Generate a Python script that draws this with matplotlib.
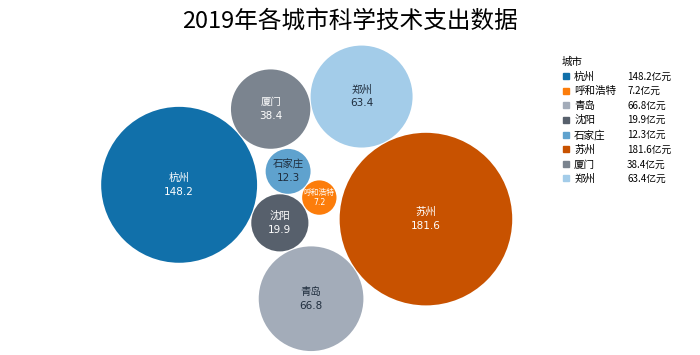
import numpy as np
import matplotlib
matplotlib.use("Agg")
import matplotlib.pyplot as plt

plt.rcParams['font.family'] = ['Noto Sans CJK SC', 'DejaVu Sans']

cities = ['杭州', '呼和浩特', '青岛', '沈阳', '石家庄', '苏州', '厦门', '郑州']
values = [148.2, 7.2, 66.8, 19.9, 12.3, 181.6, 38.4, 63.4]
colors = ['#1170aa', '#fc7d0b', '#a3acb9', '#57606c', '#5fa2ce', '#c85200', '#7b848f', '#a3cce9']
text_colors = ['white', 'white', '#1f2d3d', 'white', '#1f2d3d', 'white', 'white', '#1f2d3d']
label_sizes = [7.5, 5.6, 7.5, 7.5, 7.5, 7.5, 7.5, 7.5]
title = '2019年各城市科学技术支出数据'
legend_title = '城市'
unit = '亿元'

W, H = 700, 355          # figure size in pixels
SCALE = 11.35            # pixels per data unit
COM_PX = (315, 196)      # where the centre of mass of the bubbles sits (pixels from top-left)


class BubbleChart:
    def __init__(self, area, bubble_spacing=0.0):
        area = np.asarray(area, dtype=float)
        r = np.sqrt(area / np.pi)
        self.bubble_spacing = bubble_spacing
        self.bubbles = np.ones((len(area), 4))
        self.bubbles[:, 2] = r
        self.bubbles[:, 3] = area
        self.maxstep = 2 * self.bubbles[:, 2].max() + self.bubble_spacing
        self.step_dist = self.maxstep / 2
        length = np.ceil(np.sqrt(len(self.bubbles)))
        grid = np.arange(length) * self.maxstep
        gx, gy = np.meshgrid(grid, grid)
        self.bubbles[:, 0] = gx.flatten()[:len(self.bubbles)]
        self.bubbles[:, 1] = gy.flatten()[:len(self.bubbles)]
        self.com = self.center_of_mass()

    def center_of_mass(self):
        return np.average(self.bubbles[:, :2], axis=0, weights=self.bubbles[:, 3])

    def center_distance(self, bubble, bubbles):
        return np.hypot(bubble[0] - bubbles[:, 0], bubble[1] - bubbles[:, 1])

    def outline_distance(self, bubble, bubbles):
        d = self.center_distance(bubble, bubbles)
        return d - bubble[2] - bubbles[:, 2] - self.bubble_spacing

    def check_collisions(self, bubble, bubbles):
        distance = self.outline_distance(bubble, bubbles)
        return len(distance[distance < 0])

    def collides_with(self, bubble, bubbles):
        distance = self.outline_distance(bubble, bubbles)
        return np.argmin(distance, keepdims=True)

    def collapse(self, n_iterations=50):
        for _ in range(n_iterations):
            moves = 0
            for i in range(len(self.bubbles)):
                rest_bub = np.delete(self.bubbles, i, 0)
                dir_vec = self.com - self.bubbles[i, :2]
                dir_vec = dir_vec / np.sqrt(dir_vec.dot(dir_vec))
                new_point = self.bubbles[i, :2] + dir_vec * self.step_dist
                new_bubble = np.append(new_point, self.bubbles[i, 2:4])
                if not self.check_collisions(new_bubble, rest_bub):
                    self.bubbles[i, :] = new_bubble
                    self.com = self.center_of_mass()
                    moves += 1
                else:
                    for colliding in self.collides_with(new_bubble, rest_bub):
                        dir_vec = rest_bub[colliding, :2] - self.bubbles[i, :2]
                        dir_vec = dir_vec / np.sqrt(dir_vec.dot(dir_vec))
                        orth = np.array([dir_vec[1], -dir_vec[0]])
                        p1 = self.bubbles[i, :2] + orth * self.step_dist
                        p2 = self.bubbles[i, :2] - orth * self.step_dist
                        d1 = self.center_distance(self.com, np.array([p1]))
                        d2 = self.center_distance(self.com, np.array([p2]))
                        new_point = p1 if d1 < d2 else p2
                        new_bubble = np.append(new_point, self.bubbles[i, 2:4])
                        if not self.check_collisions(new_bubble, rest_bub):
                            self.bubbles[i, :] = new_bubble
                            self.com = self.center_of_mass()
            if moves / len(self.bubbles) < 0.1:
                self.step_dist = self.step_dist / 2


bc = BubbleChart(values, bubble_spacing=0.1)
bc.collapse()
b = bc.bubbles
com = bc.center_of_mass()

fig = plt.figure(figsize=(W / 100, H / 100), dpi=100)
ax = fig.add_axes([0, 0, 1, 1])
ax.axis('off')
handles = []
for i in range(len(b)):
    ax.add_patch(plt.Circle(b[i, :2], b[i, 2], color=colors[i], linewidth=0))
    off = 0.6 * label_sizes[i] / 7.5
    ax.text(b[i, 0], b[i, 1] + off, cities[i], ha='center', va='center',
            fontsize=label_sizes[i], color=text_colors[i])
    ax.text(b[i, 0], b[i, 1] - off, f'{values[i]}', ha='center', va='center',
            fontsize=label_sizes[i], color=text_colors[i], family='DejaVu Sans')
    handles.append(plt.Line2D([], [], marker='s', linestyle='none', markersize=5,
                              color=colors[i]))
x0 = com[0] - COM_PX[0] / SCALE
ytop = com[1] + COM_PX[1] / SCALE
ax.set_xlim(x0, x0 + W / SCALE)
ax.set_ylim(ytop - H / SCALE, ytop)

fig.text(0.5, 1 - 21 / H, title, ha='center', va='center', fontsize=17)
leg = fig.legend(handles, cities, title=legend_title, loc='upper left',
                 bbox_to_anchor=(562 / W, 1 - 57 / H), frameon=False,
                 fontsize=7.6, title_fontsize=7.6, handletextpad=0.35,
                 labelspacing=0.42, handlelength=0.8, borderaxespad=0,
                 borderpad=0)
leg._legend_box.align = 'left'

fig.canvas.draw()
inv = fig.transFigure.inverted()
for t, v in zip(leg.get_texts(), values):
    bb = t.get_window_extent()
    yc = inv.transform(((bb.x0 + bb.x1) / 2, (bb.y0 + bb.y1) / 2))[1]
    fig.text(627 / W, yc, f'{v}{unit}', ha='left', va='center', fontsize=7)

fig.savefig('out.png', dpi=100)
